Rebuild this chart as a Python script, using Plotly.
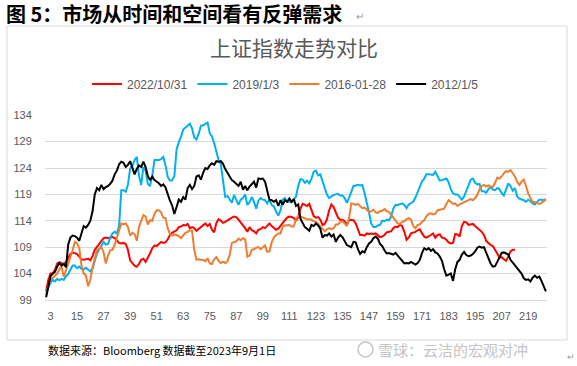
import plotly.graph_objects as go

# ---------------- data ----------------
series_names = ["2022/10/31", "2019/1/3", "2016-01-28", "2012/1/5"]
series_colors = ["#FF0000", "#00B0F0", "#ED7D31", "#000000"]

s_2022_10_31 = [
    100.6, 102.8, 104.0, 104.0, 104.7, 105.9, 106.1, 105.9, 105.8, 106.2,
    107.0, 107.7, 108.0, 107.9, 107.7, 107.2, 106.7, 106.6, 106.7, 106.8,
    106.5, 107.3, 108.5, 109.0, 109.5, 110.2, 110.7, 110.8, 110.7, 110.8,
    110.9, 110.7, 110.2, 109.8, 109.7, 109.8, 109.6, 108.5, 106.5, 105.9,
    105.5, 105.3, 105.8, 106.6, 106.8, 106.2, 106.9, 107.8, 108.8, 109.3,
    109.2, 109.6, 110.0, 109.8, 109.9, 110.5, 111.3, 111.7, 111.9, 112.2,
    112.8, 112.9, 113.2, 113.1, 113.4, 112.6, 112.8, 112.6, 112.1, 112.5,
    112.8, 113.2, 113.5, 113.0, 113.4, 112.3, 111.8, 113.6, 114.3, 114.0,
    113.6, 113.8, 114.1, 114.4, 114.6, 114.8, 114.7, 114.2, 113.7, 113.2,
    112.6, 111.9, 112.8, 112.2, 112.0, 111.6, 112.3, 112.4, 112.8, 112.6,
    113.1, 113.5, 113.0, 112.6, 112.3, 112.5, 113.1, 113.6, 114.1, 114.6,
    114.8, 114.7, 114.5, 114.1, 114.6, 116.3, 117.2, 117.0, 116.8, 117.2,
    116.0, 114.9, 114.6, 114.7, 114.2, 113.2, 113.4, 114.3, 116.0, 117.1,
    116.6, 115.5, 114.6, 114.2, 114.2, 113.9, 113.2, 114.2, 114.1, 114.1,
    113.5, 112.4, 111.3, 111.3, 111.2, 111.6, 111.5, 111.6, 111.5, 111.6,
    111.2, 110.9, 111.0, 111.3, 111.8, 111.9, 112.0, 112.6, 112.9, 112.8,
    113.3, 113.0, 111.9, 110.4, 110.8, 111.6, 111.7, 111.9, 112.2, 112.4,
    111.6, 111.0, 110.8, 111.0, 111.3, 111.6, 110.8, 111.3, 111.4, 110.8,
    110.7, 110.4, 109.9, 109.7, 109.8, 111.5, 111.4, 111.0, 113.0, 113.8,
    113.7, 113.2, 113.3, 113.4, 113.0, 112.6, 112.2, 111.9, 111.3, 110.2,
    109.8, 109.4, 109.2, 108.6, 107.8, 107.0, 107.1, 106.7, 106.4, 107.2,
    108.2, 108.5, 108.5,
]

s_2019_1_3 = [
    100.6, 101.5, 102.2, 102.8, 102.5, 103.0, 102.7, 103.0, 102.8, 103.5,
    103.9, 104.7, 105.5, 105.5, 105.0, 105.3, 104.9, 104.8, 105.1, 104.7,
    104.4, 105.0, 106.5, 107.8, 108.6, 109.2, 110.0, 109.5, 109.6, 110.8,
    111.6, 111.9, 111.6, 113.0, 119.8, 119.8, 119.5, 120.8, 123.9, 124.4,
    125.5, 126.1, 122.5, 120.8, 124.2, 123.5, 121.0, 120.6, 122.5, 125.5,
    125.5, 125.5, 125.7, 126.1, 124.5, 122.3, 121.6, 121.7, 122.5, 127.5,
    128.9, 129.9, 131.3, 131.6, 132.0, 132.4, 131.5, 129.8, 129.4, 130.5,
    132.0, 132.1, 132.3, 132.6, 130.6, 130.0, 128.7, 127.0, 125.5, 124.7,
    122.0, 118.5, 118.7, 117.9, 117.4, 118.9, 118.0, 117.0, 118.0, 118.3,
    119.0, 117.0, 117.5, 118.5, 117.6, 116.3, 117.8, 118.3, 118.0, 117.9,
    117.3, 118.0, 117.0, 116.7, 115.7, 115.0, 116.0, 118.0, 118.3, 117.7,
    117.6, 117.5, 118.0, 118.6, 120.6, 121.9, 121.8, 121.2, 121.6, 121.1,
    122.0, 123.3, 123.5, 122.6, 122.8, 121.5, 120.0, 118.9, 118.3, 118.6,
    118.9, 119.0, 119.1, 118.8, 118.8, 118.3, 117.4, 118.4, 119.4, 120.6,
    120.7, 120.8, 120.7, 120.8, 119.2, 117.6, 115.6, 113.5, 112.8, 112.8,
    113.1, 113.2, 114.0, 113.9, 114.2, 114.1, 114.8, 116.3, 117.0, 117.0,
    117.2, 117.3, 117.0, 116.4, 117.1, 117.3, 117.6, 118.4, 119.5, 120.4,
    121.5, 122.0, 122.8, 122.8, 122.7, 122.7, 123.3, 122.3, 121.6, 121.7,
    121.8, 122.0, 121.3, 120.0, 119.2, 119.0, 119.0, 118.5, 118.0, 118.6,
    119.8, 120.8, 121.8, 122.0, 121.2, 120.9, 121.0, 119.6, 119.6, 119.3,
    120.0, 120.4, 119.9, 119.8, 120.2, 120.0, 119.2, 118.8, 120.0, 121.1,
    120.6, 119.7, 120.2, 118.6, 118.2, 118.1, 117.9, 117.6, 118.0, 117.7,
    117.3, 117.1, 117.6, 118.0, 118.0, 117.9, 118.1,
]

s_2016_01_28 = [
    99.9, 101.5, 102.8, 103.2, 103.6, 104.0, 104.8, 105.3, 103.4, 104.6,
    106.2, 107.2, 108.4, 110.0, 109.7, 108.8, 105.5, 104.0, 103.6, 101.6,
    102.8, 105.2, 107.0, 108.4, 108.6, 109.0, 108.0, 105.9, 107.4, 108.4,
    108.5, 109.4, 110.8, 112.3, 113.5, 113.3, 113.5, 112.8, 111.2, 111.7,
    111.5, 110.2, 112.8, 114.0, 115.1, 114.8, 113.3, 114.1, 114.0, 115.3,
    116.0, 116.0, 115.6, 114.6, 114.5, 112.6, 111.5, 111.2, 111.4, 111.3,
    111.1, 110.7, 111.3, 111.7, 111.9, 112.2, 112.1, 108.5, 106.6, 106.7,
    106.6, 106.6, 106.3, 106.9, 105.9, 105.8, 106.7, 107.1, 106.4, 106.0,
    106.2, 106.0, 106.3, 107.5, 109.8, 110.0, 110.1, 110.6, 110.3, 110.7,
    110.5, 107.2, 107.4, 108.5, 108.6, 108.9, 109.0, 108.6, 108.9, 109.3,
    108.1, 108.2, 109.9, 110.8, 111.3, 111.6, 111.6, 112.9, 113.1, 113.2,
    113.2, 112.9, 112.9, 114.4, 114.9, 114.8, 114.6, 114.4, 114.3, 114.3,
    114.2, 113.9, 113.8, 113.4, 112.9, 112.3, 112.0, 112.4, 112.6, 112.4,
    112.6, 113.3, 113.3, 113.8, 113.9, 113.5, 113.0, 114.5, 117.3, 117.2,
    117.0, 117.2, 116.7, 116.4, 116.5, 116.0, 115.7, 115.8, 116.1, 115.6,
    115.5, 115.8, 115.9, 116.2, 115.8, 115.7, 115.2, 114.6, 114.1, 113.5,
    113.4, 113.8, 113.9, 114.3, 114.5, 114.2, 113.0, 112.6, 113.2, 113.3,
    113.8, 114.1, 114.9, 115.3, 115.4, 115.2, 115.3, 116.0, 116.1, 116.2,
    116.3, 117.2, 117.9, 117.6, 117.2, 117.3, 116.8, 117.1, 117.3, 117.4,
    117.7, 117.9, 118.1, 117.9, 118.3, 118.9, 120.0, 120.6, 120.8, 120.5,
    120.7, 120.5, 120.4, 121.2, 122.2, 122.0, 122.4, 123.0, 123.4, 123.3,
    123.6, 123.0, 122.4, 121.4, 120.8, 121.4, 121.8, 120.6, 119.2, 118.3,
    117.6, 117.5, 117.4, 117.2, 117.4, 117.7, 118.0,
]

s_2012_1_5 = [
    99.5, 101.5, 103.5, 104.0, 104.3, 105.3, 106.0, 105.5, 105.8, 105.2,
    109.5, 110.8, 111.2, 111.1, 110.8, 110.2, 111.4, 113.0, 112.7, 113.2,
    114.0, 115.8, 119.0, 120.2, 119.8, 120.8, 120.0, 120.4, 120.6, 121.0,
    121.6, 122.8, 123.5, 124.7, 125.2, 125.0, 124.2, 124.6, 125.3, 124.0,
    122.8, 123.8, 124.5, 124.2, 125.2, 124.2, 122.5, 121.7, 122.4, 121.7,
    121.4, 121.1, 120.6, 120.9, 120.3, 118.8, 117.8, 116.9, 115.3, 116.6,
    118.0, 117.6, 118.5, 118.0, 120.2, 120.8, 120.0, 120.6, 122.4, 122.6,
    121.8, 123.1, 124.0, 123.8, 124.5, 124.9, 124.6, 125.3, 125.2, 125.3,
    124.8, 123.8, 123.0, 122.4, 121.7, 121.4, 120.9, 120.6, 121.4, 119.9,
    120.6, 119.8, 120.5, 121.0, 121.4, 120.3, 122.0, 121.9, 122.0, 121.4,
    119.5, 118.0, 117.9, 117.6, 117.9, 116.8, 117.9, 117.0, 117.9, 117.6,
    118.2, 117.6, 118.1, 116.8, 117.1, 114.4, 113.6, 112.8, 112.5, 112.1,
    113.2, 113.0, 113.5, 113.1, 112.5, 110.8, 111.3, 111.2, 111.6, 111.0,
    111.4, 110.0, 110.8, 111.3, 110.9, 110.1, 109.4, 109.2, 109.0, 110.0,
    109.9, 108.6, 107.7, 108.2, 108.0, 109.0, 109.7, 110.0, 110.7, 111.0,
    110.6, 109.6, 109.2, 108.4, 107.8, 107.9, 107.8, 107.6, 107.9, 107.4,
    106.9, 106.6, 105.9, 106.0, 105.9, 106.2, 105.9, 105.7, 106.0, 106.6,
    107.9, 108.8, 108.5, 108.8, 108.3, 108.6, 108.0, 107.8, 107.2, 106.4,
    104.8, 103.6, 103.8, 104.0, 102.6, 104.8, 106.2, 106.6, 107.6, 108.1,
    107.5, 107.3, 107.4, 107.7, 108.2, 108.9, 109.1, 108.9, 109.0, 107.9,
    106.9, 105.9, 105.3, 105.4, 106.2, 107.2, 107.9, 108.0, 107.8, 107.6,
    106.6, 106.0, 105.6, 105.0, 104.5, 104.0, 103.1, 102.8, 102.9, 102.5,
    103.2, 103.6, 103.2, 103.4, 102.6, 101.5, 100.6,
]

all_series = [s_2022_10_31, s_2019_1_3, s_2016_01_28, s_2012_1_5]

x_tick_labels = [3, 15, 27, 39, 51, 63, 75, 87, 99, 111, 123, 135, 147, 159, 171, 183, 195, 207, 219]
y_tick_labels = [99, 104, 109, 114, 119, 124, 129, 134]

main_title = "图 5：市场从时间和空间看有反弹需求"
chart_title = "上证指数走势对比"
footer_text = "数据来源：Bloomberg 数据截至2023年9月1日"
watermark_text = "雪球：云洁的宏观对冲"

# ---------------- layout geometry ----------------
W, H = 577, 366
L, R, T, B = 45, 30, 115, 66
PW, PH = W - L - R, H - T - B


def px(x):
    return (x - L) / PW


def py(y):
    return (H - B - y) / PH


CJK = "Noto Sans CJK SC"
LAT = "Liberation Sans"

fig = go.Figure()
for name, color, vals in zip(series_names, series_colors, all_series):
    fig.add_trace(go.Scatter(
        x=list(range(1, len(vals) + 1)), y=vals, mode="lines", name=name,
        line=dict(color=color, width=2), hoverinfo="skip",
    ))

fig.update_layout(
    width=W, height=H, autosize=False,
    margin=dict(l=L, r=R, t=T, b=B, pad=0, autoexpand=False),
    paper_bgcolor="white", plot_bgcolor="white",
    showlegend=True,
    legend=dict(
        orientation="h", xref="container", yref="container",
        x=87 / W, xanchor="left", y=1 - 84 / H, yanchor="middle",
        font=dict(family=LAT, size=12, color="#595959"),
        bgcolor="rgba(0,0,0,0)", itemwidth=30, tracegroupgap=0,
    ),
    xaxis=dict(
        range=[0.5, 227.5], tickmode="array", tickvals=x_tick_labels,
        ticktext=[str(v) for v in x_tick_labels], showgrid=False, zeroline=False,
        showline=True, linecolor="#D9D9D9", linewidth=1, automargin=False,
        ticks="outside", ticklen=6, tickcolor="rgba(0,0,0,0)",
        tickfont=dict(family=LAT, size=11, color="#595959"), fixedrange=True,
    ),
    yaxis=dict(
        range=[98.98, 134.05], tickmode="array", tickvals=y_tick_labels,
        ticktext=[str(v) for v in y_tick_labels], showgrid=True, automargin=False,
        gridcolor="#D9D9D9", gridwidth=1, zeroline=False, showline=False,
        ticks="outside", ticklen=10, tickcolor="rgba(0,0,0,0)",
        tickfont=dict(family=LAT, size=11, color="#595959"), fixedrange=True,
    ),
)

annotations = [
    dict(text="<b>" + main_title + "</b>", x=px(4), y=py(13), xanchor="left", yanchor="middle",
         font=dict(family=CJK, size=20, color="#000000")),
    dict(text="↵", x=px(354), y=py(16), xanchor="left", yanchor="middle",
         font=dict(family=CJK, size=10, color="#9a9a9a")),
    dict(text=chart_title, x=px(294), y=py(47), xanchor="center", yanchor="middle",
         font=dict(family=CJK, size=21, color="#595959")),
    dict(text=footer_text, x=px(46), y=py(350), xanchor="left", yanchor="middle",
         font=dict(family=CJK, size=11, color="#000000")),
    dict(text=watermark_text, x=px(376), y=py(349), xanchor="left", yanchor="middle",
         font=dict(family=CJK, size=15, color="#C4C4C4")),
    dict(text="↵", x=px(565), y=py(356), xanchor="left", yanchor="middle",
         font=dict(family=CJK, size=9, color="#9a9a9a")),
]
for a in annotations:
    a.update(xref="paper", yref="paper", showarrow=False)
fig.update_layout(annotations=annotations)

fig.update_layout(shapes=[
    dict(type="rect", xref="paper", yref="paper", x0=px(7), x1=px(567), y0=py(340), y1=py(26),
         line=dict(color="#D9D9D9", width=1), fillcolor="rgba(0,0,0,0)", layer="below"),
    dict(type="circle", xref="paper", yref="paper", x0=px(358), x1=px(373), y0=py(357), y1=py(342),
         line=dict(color="#C4C4C4", width=1.5), fillcolor="rgba(0,0,0,0)"),
])

fig.write_html(
    "out.html",
    config={"displayModeBar": False, "staticPlot": True},
    post_script="document.body.style.margin='0';document.body.style.padding='0';",
)
